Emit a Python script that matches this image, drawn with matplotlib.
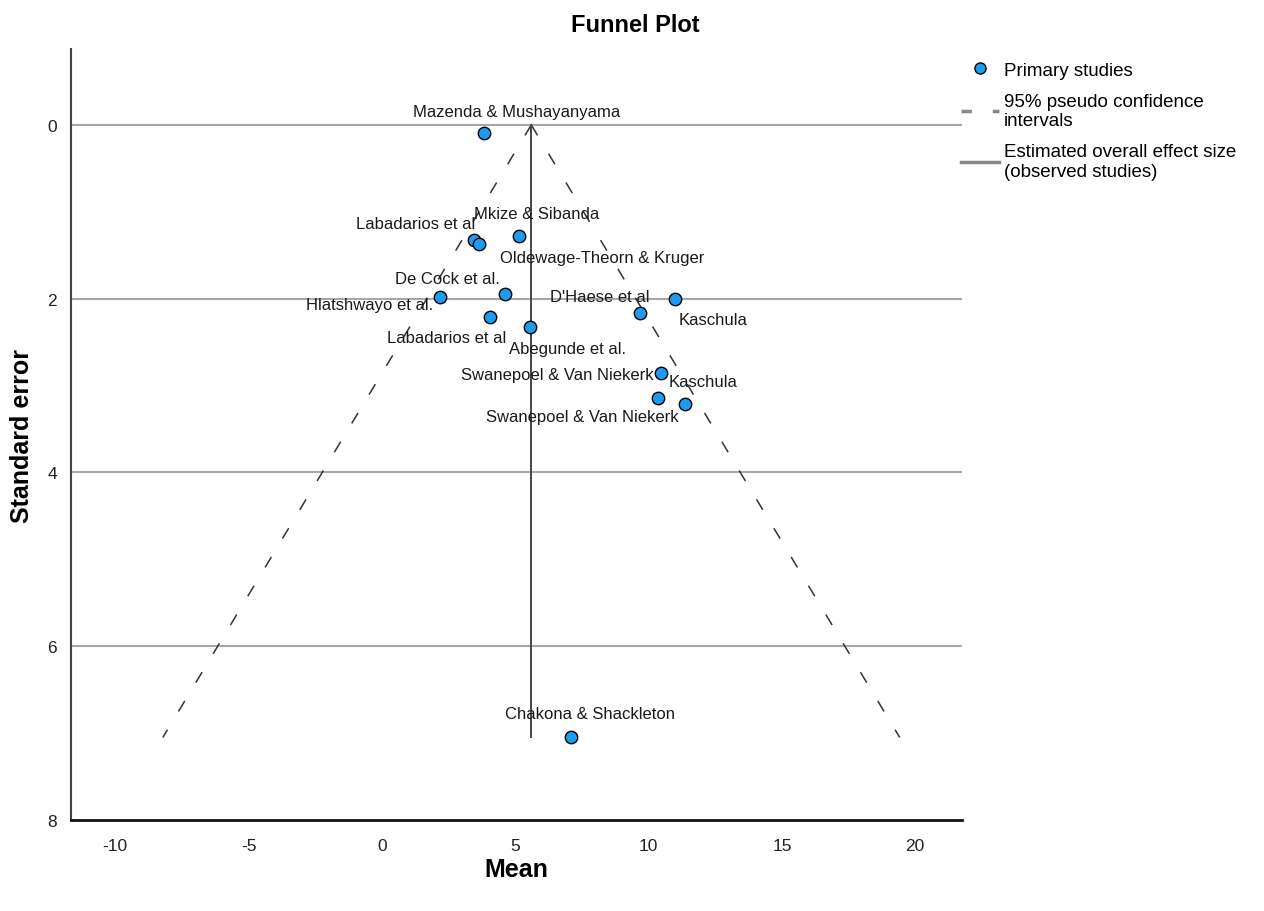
import numpy as np
import matplotlib
matplotlib.use("Agg")
import matplotlib.pyplot as plt
from matplotlib.lines import Line2D

plt.rcParams["font.family"] = ["Liberation Sans", "DejaVu Sans"]
plt.rcParams["axes.unicode_minus"] = False

# ─── Data ────────────────────────────────────────────────────────────────────
study_mean = [3.82, 3.45, 3.64, 5.14, 2.17, 4.61, 4.05, 5.55,
              9.67, 10.99, 10.46, 10.35, 11.36, 7.09]
study_se   = [0.09, 1.33, 1.37, 1.28, 1.98, 1.95, 2.21, 2.33,
              2.16, 2.00, 2.85, 3.14, 3.21, 7.05]
overall_effect = 5.6

labels = ["Mazenda & Mushayanyama", "Labadarios et al", "Mkize & Sibanda",
          "Oldewage-Theorn & Kruger", "De Cock et al.", "Hlatshwayo et al.",
          "Labadarios et al", "Abegunde et al.", "D'Haese et al", "Kaschula",
          "Swanepoel & Van Niekerk", "Kaschula", "Swanepoel & Van Niekerk",
          "Chakona & Shackleton"]
# label placement (as SPSS put them), data coords
label_x = [5.06, 1.27, 5.81, 8.25, 2.47, -0.45, 2.44, 6.97, 8.17, 12.41,
           6.56, 12.04, 7.50, 7.80]
label_y = [-0.15, 1.14, 1.02, 1.53, 1.77, 2.07, 2.45, 2.57, 1.97, 2.24,
           2.87, 2.95, 3.36, 6.78]

BLUE = "#1e9bf0"
GRID = "#a8a8a8"

fig = plt.figure(figsize=(12.64, 9.12), dpi=100)
ax = fig.add_axes([0.0562, 0.0998, 0.7048, 0.845])

# grid lines
for yv in [0, 2, 4, 6]:
    ax.axhline(yv, color=GRID, lw=1.5, zorder=1)

# funnel
se_max = max(study_se)
se_line = np.array([0, se_max])
ax.plot(overall_effect - 1.96 * se_line, se_line, color="#333333", lw=1.1,
        dashes=(8, 14), zorder=2)
ax.plot(overall_effect + 1.96 * se_line, se_line, color="#333333", lw=1.1,
        dashes=(8, 14), zorder=2)
ax.plot([overall_effect, overall_effect], [0, se_max], color="#444444", lw=1.4, zorder=2)

ax.scatter(study_mean, study_se, s=80, color=BLUE, edgecolor="black",
           linewidth=1.0, zorder=4)

for t, lx, ly in zip(labels, label_x, label_y):
    ax.text(lx, ly, t, ha="center", va="center", fontsize=12, color="#1a1a1a",
            zorder=5)

ax.set_xlim(-11.66, 21.75)
ax.set_ylim(8, -0.87)
ax.set_xticks([-10, -5, 0, 5, 10, 15, 20])
ax.set_yticks([0, 2, 4, 6, 8])
ax.tick_params(length=0, labelsize=12.5, colors="#222222")
ax.tick_params(axis="x", pad=13)
ax.tick_params(axis="y", pad=10)

for s in ["top", "right"]:
    ax.spines[s].set_visible(False)
ax.spines["left"].set_color("#444444")
ax.spines["left"].set_linewidth(1.5)
ax.spines["bottom"].set_color("#111111")
ax.spines["bottom"].set_linewidth(2)

ax.set_xlabel("Mean", fontsize=18, fontweight="bold", labelpad=3)
ax.set_ylabel("Standard error", fontsize=18, fontweight="bold", labelpad=10)
fig.text(0.503, 1 - 25 / 912, "Funnel Plot", ha="center", va="center",
         fontsize=17, fontweight="bold")

handles = [
    Line2D([], [], ls="none", marker="o", markersize=8, markerfacecolor=BLUE,
           markeredgecolor="black"),
    Line2D([], [], color="#888888", lw=2.5, dashes=(3, 6)),
    Line2D([], [], color="#888888", lw=2.5),
]
leg = fig.legend(handles, ["Primary studies", "95% pseudo confidence\nintervals",
                           "Estimated overall effect size\n(observed studies)"],
                 loc="upper left", bbox_to_anchor=(0.747, 0.950), frameon=False,
                 fontsize=13.5, handlelength=2.0, handletextpad=0.3,
                 labelspacing=0.75)

fig.savefig("out.png", dpi=100)
